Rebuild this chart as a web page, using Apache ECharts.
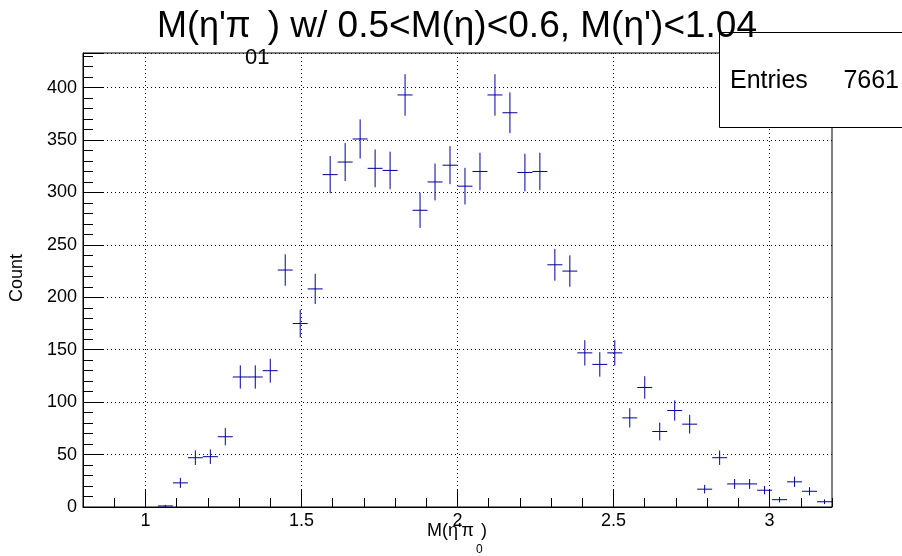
<!DOCTYPE html>
<html>
<head>
<meta charset="utf-8">
<script src="https://cdn.jsdelivr.net/npm/echarts@6/dist/echarts.min.js"></script>
<style>
html,body{margin:0;padding:0;background:#fff;}
#chart{width:902px;height:556px;}
</style>
</head>
<body>
<div id="chart"></div>
<script>
// ---- data ----
const binCenters = [1.064, 1.112, 1.160, 1.208, 1.256, 1.304, 1.352, 1.400, 1.448, 1.496,
  1.544, 1.592, 1.640, 1.688, 1.736, 1.784, 1.832, 1.880, 1.928, 1.976,
  2.024, 2.072, 2.120, 2.168, 2.216, 2.264, 2.312, 2.360, 2.408, 2.456,
  2.504, 2.552, 2.600, 2.648, 2.696, 2.744, 2.792, 2.840, 2.888, 2.936,
  2.984, 3.032, 3.080, 3.128, 3.176];
const counts = [1, 23, 47, 48, 67, 124, 124, 130, 226, 175,
  208, 317, 329, 351, 323, 321, 393, 283, 310, 326,
  306, 320, 393, 376, 319, 320, 231, 225, 147, 136,
  147, 85, 114, 72, 92, 79, 17, 47, 22, 22,
  16, 7, 24, 15, 5];
const errors = [1.0, 4.8, 6.9, 6.9, 8.2, 11.1, 11.1, 11.4, 15.0, 13.2,
  14.4, 17.8, 18.1, 18.7, 18.0, 17.9, 19.8, 16.8, 17.6, 18.1,
  17.5, 17.9, 19.8, 19.4, 17.9, 17.9, 15.2, 15.0, 12.1, 11.7,
  12.1, 9.2, 10.7, 8.5, 9.6, 8.9, 4.1, 6.9, 4.7, 4.7,
  4.0, 2.6, 4.9, 3.9, 2.2];
const binHalfWidth = 0.024;
const xRange = [0.8, 3.2];
const yRange = [0, 433];
const xMajorTicks = [1, 1.5, 2, 2.5, 3];
const yTickLabels = [0, 50, 100, 150, 200, 250, 300, 350, 400];
const titleLeft = "M(η'π";
const titleRight = ") w/ 0.5<M(η)<0.6, M(η')<1.04";
const titleSub = "01";
const xTitle = "M(η'π";
const xTitleClose = ")";
const xTitleSub = "0";
const yTitle = "Count";
const statsLabel = "Entries";
const statsValue = "7661";

// ---- chart ----
const FONT = "'Liberation Sans', Arial, Helvetica, sans-serif";
const COLOR = '#000099';
const chart = echarts.init(document.getElementById('chart'), null, {renderer: 'canvas'});
const table = binCenters.map((x, i) => [x, counts[i], errors[i]]);

const option = {
  animation: false,
  backgroundColor: '#fff',
  textStyle: {fontFamily: FONT},
  grid: {left: 83, right: 70, top: 53, bottom: 49, show: true, borderColor: '#000', borderWidth: 1, backgroundColor: 'transparent'},
  xAxis: [
    {
      type: 'value', min: xRange[0], max: xRange[1], position: 'bottom',
      axisLine: {show: true, onZero: false, lineStyle: {color: '#000', width: 1}},
      axisTick: {show: true, inside: true, length: 18, customValues: xMajorTicks, lineStyle: {color: '#000'}},
      axisLabel: {show: true, customValues: xMajorTicks, margin: 5, fontSize: 18, color: '#000', fontFamily: FONT,
        formatter: v => String(v)},
      splitLine: {show: true, lineStyle: {color: '#000', width: 1, type: [1, 3]}}
    },
    {
      type: 'value', min: xRange[0], max: xRange[1], interval: 0.1, position: 'bottom',
      axisLine: {show: false},
      axisTick: {show: true, inside: true, length: 9, lineStyle: {color: '#000'}},
      axisLabel: {show: false},
      splitLine: {show: false}
    }
  ],
  yAxis: [
    {
      type: 'value', min: yRange[0], max: yRange[1], interval: 50, position: 'left',
      axisLine: {show: true, onZero: false, lineStyle: {color: '#000', width: 1}},
      axisTick: {show: true, inside: true, length: 20, lineStyle: {color: '#000'}},
      axisLabel: {show: true, margin: 6, fontSize: 18, color: '#000', fontFamily: FONT,
        formatter: v => (yTickLabels.indexOf(v) >= 0 ? String(v) : '')},
      splitLine: {show: true, lineStyle: {color: '#000', width: 1, type: [1, 3]}}
    },
    {
      type: 'value', min: yRange[0], max: yRange[1], interval: 10, position: 'left',
      axisLine: {show: false},
      axisTick: {show: true, inside: true, length: 10, lineStyle: {color: '#000'}},
      axisLabel: {show: false},
      splitLine: {show: false}
    }
  ],
  series: [{
    type: 'custom',
    xAxisIndex: 0, yAxisIndex: 0,
    clip: true,
    z: 5,
    data: table,
    renderItem: function (params, api) {
      const x = api.value(0), y = api.value(1), e = api.value(2);
      const pL = api.coord([x - binHalfWidth, y]);
      const pR = api.coord([x + binHalfWidth, y]);
      const pT = api.coord([x, y + e]);
      const pB = api.coord([x, Math.max(y - e, 0)]);
      return {
        type: 'group',
        children: [
          {type: 'line', shape: {x1: pL[0], y1: pL[1], x2: pR[0], y2: pR[1]}, style: {stroke: COLOR, lineWidth: 1}},
          {type: 'line', shape: {x1: pT[0], y1: pT[1], x2: pB[0], y2: pB[1]}, style: {stroke: COLOR, lineWidth: 1}}
        ]
      };
    }
  }],
  graphic: [
    {type: 'rect', z: 50, shape: {x: 719.5, y: 32.5, width: 200, height: 95}, style: {fill: '#fff', stroke: '#000', lineWidth: 1}},
    {type: 'text', z: 51, x: 730, y: 81, style: {text: statsLabel, font: '25px ' + FONT, fill: '#000', verticalAlign: 'middle', align: 'left'}},
    {type: 'text', z: 51, x: 899, y: 81, style: {text: statsValue, font: '25px ' + FONT, fill: '#000', verticalAlign: 'middle', align: 'right'}},
    {type: 'text', z: 60, x: 157, y: 27, style: {text: titleLeft, font: '36px ' + FONT, fill: '#000', verticalAlign: 'middle', align: 'left'}},
    {type: 'text', z: 60, x: 757, y: 27, style: {text: titleRight, font: '37px ' + FONT, fill: '#000', verticalAlign: 'middle', align: 'right'}},
    {type: 'text', z: 60, x: 245, y: 58, style: {text: titleSub, font: '22px ' + FONT, fill: '#000', verticalAlign: 'middle', align: 'left'}},
    {type: 'text', z: 60, x: 427, y: 531, style: {text: xTitle, font: '18px ' + FONT, fill: '#000', verticalAlign: 'middle', align: 'left'}},
    {type: 'text', z: 60, x: 481, y: 531, style: {text: xTitleClose, font: '18px ' + FONT, fill: '#000', verticalAlign: 'middle', align: 'left'}},
    {type: 'text', z: 60, x: 476, y: 550, style: {text: xTitleSub, font: '12px ' + FONT, fill: '#000', verticalAlign: 'middle', align: 'left'}},
    {type: 'text', z: 60, x: 17.5, y: 278, rotation: Math.PI / 2, style: {text: yTitle, font: '18px ' + FONT, fill: '#000', verticalAlign: 'middle', align: 'center'}}
  ]
};
chart.setOption(option);
</script>
</body>
</html>
